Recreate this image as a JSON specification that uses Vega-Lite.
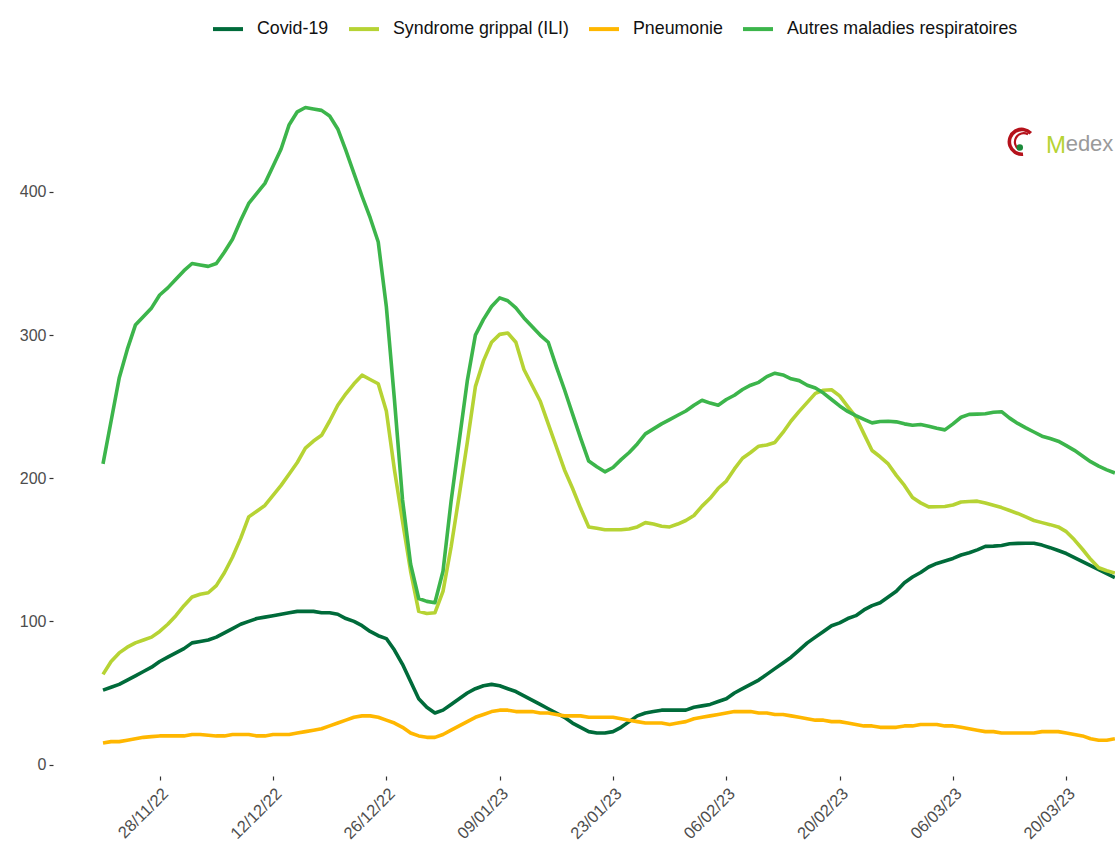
{
"$schema": "https://vega.github.io/schema/vega-lite/v6.json",
"width": 1062,
"height": 700,
"autosize": {"type": "none"},
"padding": {"left": 53, "top": 76, "right": 0, "bottom": 67},
"background": "white",
"config": {"view": {"stroke": null}, "font": "Liberation Sans"},
"layer": [
{
"data": {"format": {"parse": {"d": "utc:'%Y-%m-%d'"}}, "values": [
{"d":"2022-11-21","c":52,"s":63,"p":15,"a":210},
{"d":"2022-11-22","c":54,"s":72,"p":16,"a":240},
{"d":"2022-11-23","c":56,"s":78,"p":16,"a":270},
{"d":"2022-11-24","c":59,"s":82,"p":17,"a":290},
{"d":"2022-11-25","c":62,"s":85,"p":18,"a":307},
{"d":"2022-11-26","c":65,"s":87,"p":19,"a":313},
{"d":"2022-11-27","c":68,"s":89,"p":19.5,"a":319},
{"d":"2022-11-28","c":72,"s":93,"p":20,"a":328},
{"d":"2022-11-29","c":75,"s":98,"p":20,"a":333},
{"d":"2022-11-30","c":78,"s":104,"p":20,"a":339},
{"d":"2022-12-01","c":81,"s":111,"p":20,"a":345},
{"d":"2022-12-02","c":85,"s":117,"p":21,"a":350},
{"d":"2022-12-03","c":86,"s":119,"p":21,"a":349},
{"d":"2022-12-04","c":87,"s":120,"p":20.5,"a":348},
{"d":"2022-12-05","c":89,"s":125,"p":20,"a":350},
{"d":"2022-12-06","c":92,"s":134,"p":20,"a":358},
{"d":"2022-12-07","c":95,"s":145,"p":21,"a":367},
{"d":"2022-12-08","c":98,"s":158,"p":21,"a":380},
{"d":"2022-12-09","c":100,"s":173,"p":21,"a":392},
{"d":"2022-12-10","c":102,"s":177,"p":20,"a":399},
{"d":"2022-12-11","c":103,"s":181,"p":20,"a":406},
{"d":"2022-12-12","c":104,"s":188,"p":21,"a":418},
{"d":"2022-12-13","c":105,"s":195,"p":21,"a":430},
{"d":"2022-12-14","c":106,"s":203,"p":21,"a":447},
{"d":"2022-12-15","c":107,"s":211,"p":22,"a":456},
{"d":"2022-12-16","c":107,"s":221,"p":23,"a":459},
{"d":"2022-12-17","c":107,"s":226,"p":24,"a":458},
{"d":"2022-12-18","c":106,"s":230,"p":25,"a":457},
{"d":"2022-12-19","c":106,"s":240,"p":27,"a":453},
{"d":"2022-12-20","c":105,"s":251,"p":29,"a":444},
{"d":"2022-12-21","c":102,"s":259,"p":31,"a":429},
{"d":"2022-12-22","c":100,"s":266,"p":33,"a":413},
{"d":"2022-12-23","c":97,"s":272,"p":34,"a":397},
{"d":"2022-12-24","c":93,"s":269,"p":34,"a":382},
{"d":"2022-12-25","c":90,"s":266,"p":33,"a":365},
{"d":"2022-12-26","c":88,"s":247,"p":31,"a":320},
{"d":"2022-12-27","c":80,"s":206,"p":29,"a":255},
{"d":"2022-12-28","c":70,"s":170,"p":26,"a":185},
{"d":"2022-12-29","c":58,"s":135,"p":22,"a":140},
{"d":"2022-12-30","c":46,"s":107,"p":20,"a":116},
{"d":"2022-12-31","c":40,"s":105.5,"p":19,"a":114},
{"d":"2023-01-01","c":36,"s":106,"p":19,"a":113},
{"d":"2023-01-02","c":38,"s":121,"p":21,"a":135},
{"d":"2023-01-03","c":42,"s":152,"p":24,"a":184},
{"d":"2023-01-04","c":46,"s":188,"p":27,"a":226},
{"d":"2023-01-05","c":50,"s":225,"p":30,"a":268},
{"d":"2023-01-06","c":53,"s":264,"p":33,"a":300},
{"d":"2023-01-07","c":55,"s":282,"p":35,"a":311},
{"d":"2023-01-08","c":56,"s":295,"p":37,"a":320},
{"d":"2023-01-09","c":55,"s":300.5,"p":38,"a":326},
{"d":"2023-01-10","c":53,"s":301.5,"p":38,"a":324},
{"d":"2023-01-11","c":51,"s":295,"p":37,"a":319},
{"d":"2023-01-12","c":48,"s":276,"p":37,"a":312},
{"d":"2023-01-13","c":45,"s":265,"p":37,"a":306},
{"d":"2023-01-14","c":42,"s":254,"p":36,"a":300},
{"d":"2023-01-15","c":39,"s":238,"p":36,"a":295},
{"d":"2023-01-16","c":36,"s":222,"p":35,"a":278},
{"d":"2023-01-17","c":33,"s":206,"p":34,"a":262},
{"d":"2023-01-18","c":29,"s":193,"p":34,"a":245},
{"d":"2023-01-19","c":26,"s":179,"p":34,"a":228},
{"d":"2023-01-20","c":23,"s":166,"p":33,"a":212},
{"d":"2023-01-21","c":22,"s":165,"p":33,"a":208},
{"d":"2023-01-22","c":22,"s":164,"p":33,"a":204.5},
{"d":"2023-01-23","c":23,"s":164,"p":33,"a":207.5},
{"d":"2023-01-24","c":26,"s":164,"p":32,"a":213},
{"d":"2023-01-25","c":30,"s":164.5,"p":31,"a":218},
{"d":"2023-01-26","c":34,"s":166,"p":30,"a":224},
{"d":"2023-01-27","c":36,"s":169,"p":29,"a":231},
{"d":"2023-01-28","c":37,"s":168,"p":29,"a":234.5},
{"d":"2023-01-29","c":38,"s":166.5,"p":29,"a":238},
{"d":"2023-01-30","c":38,"s":166,"p":28,"a":241},
{"d":"2023-01-31","c":38,"s":168,"p":29,"a":244},
{"d":"2023-02-01","c":38,"s":170.5,"p":30,"a":247},
{"d":"2023-02-02","c":40,"s":174,"p":32,"a":251},
{"d":"2023-02-03","c":41,"s":180.5,"p":33,"a":254.5},
{"d":"2023-02-04","c":42,"s":186,"p":34,"a":252.5},
{"d":"2023-02-05","c":44,"s":193,"p":35,"a":251},
{"d":"2023-02-06","c":46,"s":198,"p":36,"a":255},
{"d":"2023-02-07","c":50,"s":206.5,"p":37,"a":258},
{"d":"2023-02-08","c":53,"s":214,"p":37,"a":262},
{"d":"2023-02-09","c":56,"s":218,"p":37,"a":265},
{"d":"2023-02-10","c":59,"s":222.4,"p":36,"a":267},
{"d":"2023-02-11","c":63,"s":223.2,"p":36,"a":271},
{"d":"2023-02-12","c":67,"s":225,"p":35,"a":273.4},
{"d":"2023-02-13","c":71,"s":232,"p":35,"a":272.2},
{"d":"2023-02-14","c":75,"s":240,"p":34,"a":269.5},
{"d":"2023-02-15","c":80,"s":246.7,"p":33,"a":268.2},
{"d":"2023-02-16","c":85,"s":253,"p":32,"a":265},
{"d":"2023-02-17","c":89,"s":259.3,"p":31,"a":263},
{"d":"2023-02-18","c":93,"s":261.5,"p":31,"a":259.5},
{"d":"2023-02-19","c":97,"s":261.8,"p":30,"a":255},
{"d":"2023-02-20","c":99,"s":257.5,"p":30,"a":250.5},
{"d":"2023-02-21","c":102,"s":250,"p":29,"a":246.7},
{"d":"2023-02-22","c":104,"s":242.8,"p":28,"a":243.8},
{"d":"2023-02-23","c":108,"s":231,"p":27,"a":241.2},
{"d":"2023-02-24","c":111,"s":219.4,"p":27,"a":238.7},
{"d":"2023-02-25","c":113,"s":215,"p":26,"a":239.6},
{"d":"2023-02-26","c":117,"s":210,"p":26,"a":239.8},
{"d":"2023-02-27","c":121,"s":202,"p":26,"a":239.4},
{"d":"2023-02-28","c":127,"s":195,"p":27,"a":238},
{"d":"2023-03-01","c":131,"s":186.5,"p":27,"a":237},
{"d":"2023-03-02","c":134.2,"s":182.8,"p":28,"a":237.5},
{"d":"2023-03-03","c":138,"s":180,"p":28,"a":236.4},
{"d":"2023-03-04","c":140.5,"s":180.1,"p":28,"a":235},
{"d":"2023-03-05","c":142.2,"s":180.3,"p":27,"a":233.8},
{"d":"2023-03-06","c":144,"s":181.3,"p":27,"a":238},
{"d":"2023-03-07","c":146.4,"s":183.4,"p":26,"a":242.6},
{"d":"2023-03-08","c":148,"s":183.8,"p":25,"a":244.6},
{"d":"2023-03-09","c":150,"s":184,"p":24,"a":244.8},
{"d":"2023-03-10","c":152.4,"s":182.7,"p":23,"a":245.1},
{"d":"2023-03-11","c":152.6,"s":181.1,"p":23,"a":246.1},
{"d":"2023-03-12","c":153,"s":179.5,"p":22,"a":246.5},
{"d":"2023-03-13","c":154.2,"s":177.5,"p":22,"a":242},
{"d":"2023-03-14","c":154.5,"s":175.4,"p":22,"a":238.3},
{"d":"2023-03-15","c":154.6,"s":173,"p":22,"a":235.2},
{"d":"2023-03-16","c":154.6,"s":170.5,"p":22,"a":232.3},
{"d":"2023-03-17","c":153.3,"s":169,"p":23,"a":229.4},
{"d":"2023-03-18","c":151.5,"s":167.6,"p":23,"a":227.7},
{"d":"2023-03-19","c":149.5,"s":166,"p":23,"a":225.9},
{"d":"2023-03-20","c":147.4,"s":162.7,"p":22,"a":222.8},
{"d":"2023-03-21","c":144.6,"s":157,"p":21,"a":219.5},
{"d":"2023-03-22","c":141.7,"s":150.4,"p":20,"a":215.5},
{"d":"2023-03-23","c":138.9,"s":143.4,"p":18,"a":211.6},
{"d":"2023-03-24","c":136.2,"s":137.5,"p":17,"a":208.5},
{"d":"2023-03-25","c":133.4,"s":135.4,"p":17,"a":205.9},
{"d":"2023-03-26","c":130.6,"s":133.8,"p":18,"a":203.7}
]},
"transform": [{"fold": ["c", "s", "p", "a"], "as": ["serie", "val"]}],
"mark": {"type": "line", "strokeWidth": 3.6, "strokeCap": "butt", "strokeJoin": "round"},
"encoding": {
"x": {"field": "d", "type": "temporal",
"scale": {"type": "utc", "domain": [{"year": 2022, "month": 11, "date": 14, "hours": 19, "minutes": 45, "utc": true}, {"year": 2023, "month": 3, "date": 26, "hours": 0, "minutes": 20, "utc": true}], "nice": false},
"axis": {"title": null, "grid": false, "domain": false,
"labelExpr": "utcFormat(datum.value, '%d/%m/%y')",
"values": [
{"year": 2022, "month": 11, "date": 28, "utc": true},
{"year": 2022, "month": 12, "date": 12, "utc": true},
{"year": 2022, "month": 12, "date": 26, "utc": true},
{"year": 2023, "month": 1, "date": 9, "utc": true},
{"year": 2023, "month": 1, "date": 23, "utc": true},
{"year": 2023, "month": 2, "date": 6, "utc": true},
{"year": 2023, "month": 2, "date": 20, "utc": true},
{"year": 2023, "month": 3, "date": 6, "utc": true},
{"year": 2023, "month": 3, "date": 20, "utc": true}],
"labelAngle": -45, "labelAlign": "right", "labelBaseline": "top", "labelFontSize": 16.5, "labelColor": "#4d4d4d",
"tickColor": "#333333", "tickSize": 4, "tickWidth": 1.2, "labelPadding": 5, "labelFlush": false, "labelOverlap": false}},
"y": {"field": "val", "type": "quantitative",
"scale": {"domain": [-8, 481], "nice": false, "zero": false},
"axis": {"title": null, "grid": false, "domain": false, "values": [0, 100, 200, 300, 400],
"labelFontSize": 16, "labelColor": "#4d4d4d", "tickColor": "#333333", "tickSize": 4, "tickWidth": 1.2, "labelPadding": 3}},
"color": {"field": "serie", "type": "nominal",
"scale": {"domain": ["c", "s", "p", "a"], "range": ["#006b3a", "#b6d334", "#ffb700", "#3cb54b"]},
"legend": {"title": null, "orient": "none", "legendX": 158, "legendY": -64, "direction": "horizontal",
"symbolType": "stroke", "symbolSize": 900, "symbolStrokeWidth": 4, "labelFontSize": 17.8, "labelColor": "#111111",
"labelOffset": 12, "columnPadding": 12, "labelLimit": 0,
"labelExpr": "datum.label == 'c' ? 'Covid-19' : datum.label == 's' ? 'Syndrome grippal (ILI)' : datum.label == 'p' ? 'Pneumonie' : 'Autres maladies respiratoires'"}}
}
},
{
"data": {"values": [{"logo": "Medex"}]},
"mark": {"type": "point", "shape": "M 0.72 -0.7 A 1 1 0 1 0 0.1 0.99", "filled": false, "stroke": "#b5121b", "strokeWidth": 3.6, "size": 620, "opacity": 1},
"encoding": {
"x": {"datum": {"year": 2023, "month": 3, "date": 14, "hours": 12, "utc": true}, "type": "temporal"},
"y": {"datum": 435, "type": "quantitative"}
}
},
{
"data": {"values": [{"logo": "Medex"}]},
"mark": {"type": "point", "shape": "M 0.5 -0.6 A 0.7 0.7 0 1 0 -0.2 0.62", "filled": false, "stroke": "#b5121b", "strokeWidth": 2.2, "size": 620, "opacity": 1},
"encoding": {
"x": {"datum": {"year": 2023, "month": 3, "date": 14, "hours": 12, "utc": true}, "type": "temporal"},
"y": {"datum": 435, "type": "quantitative"}
}
},
{
"data": {"values": [{"logo": "Medex"}]},
"mark": {"type": "point", "shape": "circle", "filled": true, "color": "#1a8a3a", "size": 42, "opacity": 1},
"encoding": {
"x": {"datum": {"year": 2023, "month": 3, "date": 14, "hours": 6, "utc": true}, "type": "temporal"},
"y": {"datum": 431, "type": "quantitative"}
}
},
{
"data": {"values": [{"logo": "Medex"}]},
"mark": {"type": "text", "text": "M", "align": "left", "baseline": "alphabetic", "fontSize": 24, "color": "#b6d334", "font": "Liberation Sans"},
"encoding": {
"x": {"datum": {"year": 2023, "month": 3, "date": 17, "hours": 12, "utc": true}, "type": "temporal"},
"y": {"datum": 427, "type": "quantitative"}
}
},
{
"data": {"values": [{"logo": "Medex"}]},
"mark": {"type": "text", "text": "edex", "align": "left", "baseline": "alphabetic", "fontSize": 22, "color": "#9a9a9a", "font": "Liberation Sans"},
"encoding": {
"x": {"datum": {"year": 2023, "month": 3, "date": 19, "hours": 22, "utc": true}, "type": "temporal"},
"y": {"datum": 428.5, "type": "quantitative"}
}
}
]
}
